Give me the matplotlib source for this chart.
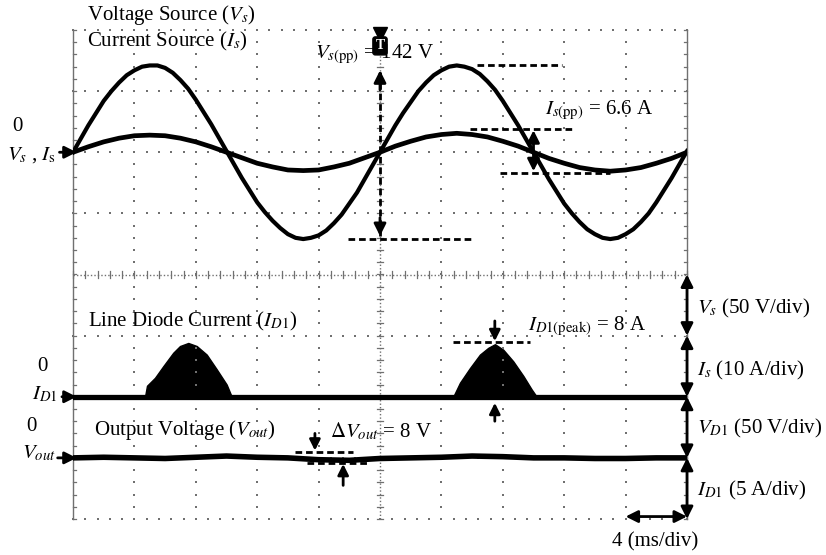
import numpy as np
import matplotlib
matplotlib.use("Agg")
import matplotlib.pyplot as plt

plt.rcParams['font.family'] = ['Liberation Serif', 'DejaVu Serif']
plt.rcParams['mathtext.fontset'] = 'stix'

# ---------------- data ----------------
# time axis (ms), 4 ms/div, 10 divisions
time_ms = [0, 0.5, 1, 1.5, 2, 2.5, 3, 3.5, 4, 4.5, 5, 5.5, 6, 6.5, 7, 7.5, 8, 8.5, 9, 9.5,
           10, 10.5, 11, 11.5, 12, 12.5, 13, 13.5, 14, 14.5, 15, 15.5, 16, 16.5, 17, 17.5, 18, 18.5, 19, 19.5,
           20, 20.5, 21, 21.5, 22, 22.5, 23, 23.5, 24, 24.5, 25, 25.5, 26, 26.5, 27, 27.5, 28, 28.5, 29, 29.5,
           30, 30.5, 31, 31.5, 32, 32.5, 33, 33.5, 34, 34.5, 35, 35.5, 36, 36.5, 37, 37.5, 38, 38.5, 39, 39.5, 40]
# source voltage (V)
vs_volts = [0, 11, 22, 32, 42, 50, 57, 63, 67, 70, 71, 71, 69, 65, 59, 52, 43, 33, 23, 12,
            1, -10, -21, -31, -41, -49, -56, -62, -67, -70, -71, -70, -68, -64, -58, -51, -42, -33, -22, -11,
            0, 11, 22, 32, 41, 50, 57, 63, 67, 70, 71, 70, 68, 64, 58, 51, 42, 32, 22, 11,
            0, -11, -22, -32, -42, -50, -57, -63, -67, -70, -71, -70, -67, -63, -57, -50, -41, -31, -21, -10, 1]
# source current (A), sampled every 1 ms
is_time_ms = list(range(0, 41))
is_amps = [0, 0.9, 1.7, 2.3, 2.7, 2.8, 2.7, 2.3, 1.7, 0.9,
           0, -0.9, -1.8, -2.4, -2.9, -3.0, -2.9, -2.4, -1.8, -0.9,
           0, 1.0, 1.8, 2.5, 2.9, 3.1, 2.9, 2.5, 1.8, 1.0,
           0, -1.0, -1.8, -2.5, -2.9, -3.1, -2.9, -2.5, -1.8, -1.0, 0]
# line diode current envelope (A) - two conduction pulses
id1_pulse1_ms = [4.69, 4.82, 5.34, 5.88, 6.53, 6.97, 7.51, 8.06, 8.71, 9.36, 10.01, 10.34]
id1_pulse1_amps = [0, 1.8, 3.1, 5.0, 7.2, 8.3, 8.8, 8.3, 6.9, 4.5, 2.0, 0]
id1_pulse2_ms = [24.77, 25.21, 25.86, 26.51, 27.05, 27.49, 28.03, 28.68, 29.34, 29.88, 30.21]
id1_pulse2_amps = [0, 2.3, 4.7, 6.9, 8.0, 8.6, 7.7, 5.8, 3.4, 1.2, 0]
# output voltage deviation (V), sampled every 2 ms
vout_time_ms = list(range(0, 41, 2))
vout_dev_volts = [0, 0.5, 0, -0.5, 0.5, 1.5, 0.5, 0, -1.5, -2, -0.5, 0, 0.5, 1.5, 1, 0, 0, -0.5, -0.5, 0, 0]

# channel placement on screen (divisions) and scales
MS_PER_DIV = 4.0
VS_OFF, VS_SCALE = 2.0, 50.0
IS_OFF, IS_SCALE = 2.0, 10.0
ID_OFF, ID_SCALE = -2.0, 10.0
VO_OFF, VO_SCALE = -3.0, 50.0

def tdiv(t):
    return np.asarray(t, float) / MS_PER_DIV

vs_d = VS_OFF + np.asarray(vs_volts) / VS_SCALE
is_d = IS_OFF + np.asarray(is_amps) / IS_SCALE
id1_p1 = ID_OFF + np.asarray(id1_pulse1_amps) / ID_SCALE
id1_p2 = ID_OFF + np.asarray(id1_pulse2_amps) / ID_SCALE
vo_d = VO_OFF + np.asarray(vout_dev_volts) / VO_SCALE

# ---------------- figure ----------------
W, H = 826, 555
fig = plt.figure(figsize=(W / 100, H / 100), dpi=100)
ax = fig.add_axes([73 / W, 36 / H, 614 / W, 489 / H])
ax.set_xlim(0, 10)
ax.set_ylim(-4, 4)
ax.axis('off')

grid_c = '#707070'
# regular dotted grid
pts = np.arange(0, 10.001, 0.2)
ptsy = np.arange(-4, 4.001, 0.2)
for k in range(1, 10):
    if k == 5:
        continue
    ax.plot(np.full_like(ptsy, k), ptsy, ls='none', marker='s', ms=1.7, color=grid_c, mew=0, clip_on=False)
for k in range(-4, 5):
    if k == 0:
        continue
    ax.plot(pts, np.full_like(pts, k), ls='none', marker='s', ms=1.7, color=grid_c, mew=0, clip_on=False)
# center lines with ticks
ax.plot([0, 10], [0, 0], ls=(0, (1, 1.5)), lw=1.0, color=grid_c, clip_on=False)
ax.plot([5, 5], [-4, 4], ls=(0, (1, 1.5)), lw=1.0, color=grid_c, clip_on=False)
for x in pts:
    ax.plot([x, x], [-0.06, 0.06], lw=0.9, color=grid_c, clip_on=False)
for y in ptsy:
    ax.plot([4.95, 5.05], [y, y], lw=0.9, color=grid_c, clip_on=False)
# side borders with ticks
ax.plot([0, 0], [-4, 4], lw=1.0, color=grid_c, clip_on=False)
ax.plot([10, 10], [-4, 4], lw=1.0, color=grid_c, clip_on=False)
for y in ptsy:
    ax.plot([0, 0.05], [y, y], lw=0.9, color=grid_c, clip_on=False)
    ax.plot([9.95, 10], [y, y], lw=0.9, color=grid_c, clip_on=False)

# ---------------- traces ----------------
ax.plot(tdiv(time_ms), vs_d, color='k', lw=3.0, solid_joinstyle='round')
ax.plot(tdiv(is_time_ms), is_d, color='k', lw=3.4, solid_joinstyle='round')
ax.plot([0, 10], [ID_OFF, ID_OFF], color='k', lw=3.8)
ax.fill_between(tdiv(id1_pulse1_ms), ID_OFF, id1_p1, color='k', lw=1)
ax.fill_between(tdiv(id1_pulse2_ms), ID_OFF, id1_p2, color='k', lw=1)
ax.plot(tdiv(vout_time_ms), vo_d, color='k', lw=4.0, solid_joinstyle='round')

# ---------------- annotations ----------------
FS = 15
dash = dict(color='k', lw=2.0, ls=(0, (2.4, 1.4)), clip_on=False)

def arrow(tip, tail, ms=18, lw=2.0, style='-|>'):
    ax.annotate('', xy=tip, xytext=tail, annotation_clip=False,
                arrowprops=dict(arrowstyle=style, lw=lw, color='k', mutation_scale=ms,
                                shrinkA=0, shrinkB=0))

ax.text(0.23, 4.24, 'Voltage Source ($V_s$)', fontsize=FS, va='center', ha='left')
ax.text(0.23, 3.81, 'Current Source ($I_s$)', fontsize=FS, va='center', ha='left')

vmax, vmin = vs_d.max(), vs_d.min()
ax.plot([6.58, 7.96], [vmax, vmax], **dash)
ax.plot([4.48, 6.50], [vmin, vmin], **dash)
ax.plot([5, 5], [vmax - 0.1, vmin + 0.05], **dash)
arrow((5, vmax - 0.08), (5, vmax - 0.4))
arrow((5, vmin + 0.05), (5, vmin + 0.35))
ax.text(3.94, 3.60, r'$V_{s(\mathrm{pp})}$ = 142 V', fontsize=FS, va='center', ha='left')
ax.plot([5], [3.93], marker='v', ms=10, color='k', clip_on=False)
ax.text(5, 3.74, 'T', fontsize=10, fontweight='bold', color='white', ha='center', va='center',
        bbox=dict(boxstyle='round,pad=0.18', fc='k', ec='k'))

imax, imin = is_d.max(), is_d.min()
ax.plot([6.47, 8.18], [imax + 0.07, imax + 0.07], **dash)
ax.plot([6.95, 8.75], [imin - 0.03, imin - 0.03], **dash)
arrow((7.5, imax + 0.05), (7.5, IS_OFF), ms=18)
arrow((7.5, imin), (7.5, IS_OFF), ms=18)
ax.text(7.69, 2.68, r'$I_{s(\mathrm{pp})}$ = 6.6 A', fontsize=FS, va='center', ha='left')

ax.text(-0.91, 2.42, '0', fontsize=FS, ha='center', va='center')
ax.text(-0.67, 1.95, r'$V_s$ , $I_{\mathrm{s}}$', fontsize=FS, ha='center', va='center')
arrow((0.06, VS_OFF), (-0.22, VS_OFF))

ax.text(0.24, -0.77, r'Line Diode Current ($I_{D\mathit{1}}$)', fontsize=FS, va='center', ha='left')
ax.text(-0.49, -1.5, '0', fontsize=FS, ha='center', va='center')
ax.text(-0.46, -1.97, r'$I_{D\mathit{1}}$', fontsize=FS, ha='center', va='center')
arrow((0.06, ID_OFF), (-0.18, ID_OFF))

ax.text(0.34, -2.55, r'Output Voltage ($V_{out}$)', fontsize=FS, va='center', ha='left')
ax.text(-0.67, -2.49, '0', fontsize=FS, ha='center', va='center')
ax.text(-0.56, -2.93, r'$V_{out}$', fontsize=FS, ha='center', va='center')
arrow((0.06, VO_OFF), (-0.25, VO_OFF))

ax.text(4.19, -2.57, r'$\mathit{\Delta V}_{out}$ = 8 V', fontsize=FS, va='center', ha='left')
ax.plot([3.62, 4.56], [-2.90, -2.90], **dash)
ax.plot([3.81, 4.84], [-3.09, -3.09], **dash)
arrow((3.94, -2.88), (3.94, -2.6), ms=16)
arrow((4.40, -3.10), (4.40, -3.45), ms=16)

pk = id1_p2.max()
ax.plot([6.19, 7.44], [pk + 0.03, pk + 0.03], **dash)
arrow((6.87, pk + 0.05), (6.87, pk + 0.38), ms=16)
arrow((6.87, ID_OFF - 0.1), (6.87, ID_OFF - 0.4), ms=16)
ax.text(7.41, -0.85, r'$I_{D\mathit{1}(\mathrm{peak})}$ = 8 A', fontsize=FS, va='center', ha='left')

for y0, y1 in [(0, -1), (-1, -2), (-2, -3), (-3, -4)]:
    arrow((10, y0), (10, y1), style='<|-|>', ms=18)
ax.text(10.16, -0.55, r'$V_s$ (50 V/div)', fontsize=FS, va='center', ha='left')
ax.text(10.16, -1.57, r'$I_s$ (10 A/div)', fontsize=FS, va='center', ha='left')
ax.text(10.16, -2.52, r'$V_{D\mathit{1}}$ (50 V/div)', fontsize=FS, va='center', ha='left')
ax.text(10.16, -3.54, r'$I_{D\mathit{1}}$ (5 A/div)', fontsize=FS, va='center', ha='left')

arrow((9, -3.96), (10, -3.96), style='<|-|>', ms=18)
ax.text(9.48, -4.37, '4 (ms/div)', fontsize=FS, ha='center', va='center')

fig.savefig('out.png', dpi=100, facecolor='white')
